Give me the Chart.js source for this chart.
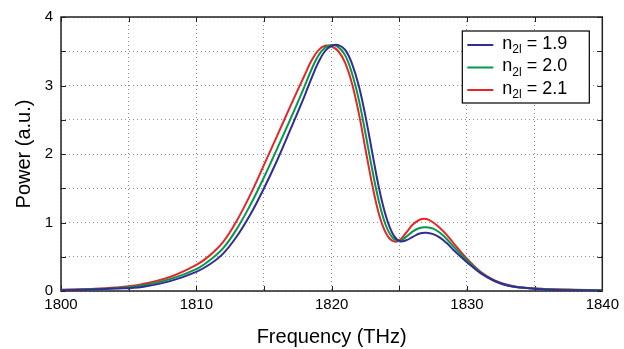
<!DOCTYPE html>
<html>
<head>
<meta charset="utf-8">
<script src="https://cdn.jsdelivr.net/npm/chart.js@4"></script>
<style>
  body { margin: 0; background: #fff; }
  canvas { display: block; }
</style>
</head>
<body>
<canvas id="grafico" width="624" height="349"></canvas>
<script>
// frequencia (THz) e potencia (a.u.)
const freq = [1800, 1802, 1804, 1806, 1808, 1810, 1811, 1812, 1813, 1814, 1815, 1816, 1817, 1818, 1818.5,
  1819, 1819.5, 1820, 1820.5, 1821, 1821.5, 1822, 1822.5, 1823, 1823.5, 1824, 1824.5, 1825, 1825.5,
  1826, 1826.5, 1827, 1827.5, 1828, 1828.5, 1829, 1830, 1831, 1832, 1833, 1834, 1836, 1838, 1840];

const power19 = [0.01, 0.02, 0.035, 0.06, 0.14, 0.28, 0.39, 0.55, 0.8, 1.12, 1.5, 1.92, 2.38, 2.85, 3.1,
  3.33, 3.5, 3.58, 3.59, 3.52, 3.32, 3.0, 2.55, 2.02, 1.5, 1.1, 0.84, 0.73, 0.74,
  0.79, 0.84, 0.85, 0.83, 0.78, 0.7, 0.6, 0.42, 0.26, 0.15, 0.08, 0.05, 0.02, 0.01, 0.005];

const power20 = [0.015, 0.025, 0.04, 0.08, 0.17, 0.32, 0.45, 0.63, 0.91, 1.26, 1.66, 2.09, 2.53, 2.99, 3.23,
  3.43, 3.55, 3.59, 3.56, 3.44, 3.18, 2.8, 2.3, 1.77, 1.3, 0.96, 0.78, 0.73, 0.79,
  0.87, 0.92, 0.93, 0.91, 0.85, 0.76, 0.65, 0.45, 0.27, 0.15, 0.08, 0.05, 0.025, 0.015, 0.01];

const power21 = [0.02, 0.03, 0.05, 0.1, 0.2, 0.38, 0.52, 0.72, 1.03, 1.41, 1.84, 2.28, 2.72, 3.15, 3.36,
  3.51, 3.58, 3.57, 3.5, 3.33, 3.03, 2.6, 2.07, 1.55, 1.12, 0.85, 0.73, 0.74, 0.85,
  0.97, 1.04, 1.05, 1.0, 0.92, 0.82, 0.7, 0.47, 0.28, 0.16, 0.09, 0.05, 0.03, 0.02, 0.01];

const n2l = ['1.9', '2.0', '2.1'];
const cores = ['#322c98', '#009a48', '#e8262a'];

const xLabels = [1800, 1810, 1820, 1830, 1840];
const yLabels = [0, 1, 2, 3, 4];

function pontos(ys) {
  return freq.map((f, i) => ({ x: f, y: ys[i] }));
}

const series = [power19, power20, power21];

// moldura + marcas de tick para dentro (estilo matlab)
const moldura = {
  id: 'moldura',
  beforeDatasetsDraw(chart) {
    const { ctx, chartArea: a, scales } = chart;
    ctx.save();
    ctx.strokeStyle = '#222';
    ctx.lineWidth = 1;
    scales.x.ticks.forEach(t => {
      const px = Math.round(scales.x.getPixelForValue(t.value)) + 0.5;
      ctx.beginPath();
      ctx.moveTo(px, a.bottom); ctx.lineTo(px, a.bottom - 5);
      ctx.moveTo(px, a.top); ctx.lineTo(px, a.top + 5);
      ctx.stroke();
    });
    scales.y.ticks.forEach(t => {
      const py = Math.round(scales.y.getPixelForValue(t.value)) + 0.5;
      ctx.beginPath();
      ctx.moveTo(a.left, py); ctx.lineTo(a.left + 5, py);
      ctx.moveTo(a.right, py); ctx.lineTo(a.right - 5, py);
      ctx.stroke();
    });
    ctx.lineWidth = 1.5;
    ctx.strokeRect(a.left, a.top, a.right - a.left, a.bottom - a.top);
    ctx.restore();
  }
};

// legenda com subscrito
const legenda = {
  id: 'legenda',
  afterDatasetsDraw(chart) {
    const { ctx, chartArea: a } = chart;
    const w = 127, h = 72;
    const x = a.right - 13 - w, y = a.top + 14;
    ctx.save();
    ctx.fillStyle = '#fff';
    ctx.fillRect(x, y, w, h);
    ctx.strokeStyle = '#000';
    ctx.lineWidth = 1.2;
    ctx.strokeRect(x, y, w, h);
    chart.data.datasets.forEach((ds, i) => {
      const ly = y + 14 + i * 22.5;
      ctx.strokeStyle = ds.borderColor;
      ctx.lineWidth = 2;
      ctx.beginPath();
      ctx.moveTo(x + 5, ly); ctx.lineTo(x + 31, ly);
      ctx.stroke();
      ctx.fillStyle = '#000';
      ctx.textBaseline = 'middle';
      ctx.font = '18px "Liberation Sans", Arial, sans-serif';
      let tx = x + 40;
      ctx.fillText('n', tx, ly - 1);
      tx += ctx.measureText('n').width;
      ctx.font = '12px "Liberation Sans", Arial, sans-serif';
      ctx.fillText('2l', tx, ly + 5);
      tx += ctx.measureText('2l').width;
      ctx.font = '18px "Liberation Sans", Arial, sans-serif';
      ctx.fillText(' = ' + n2l[i], tx, ly - 1);
    });
    ctx.restore();
  }
};

const fonte = { family: '"Liberation Sans", Arial, sans-serif', size: 15 };
const grade = { color: '#8c8c8c', borderDash: [1, 3], drawTicks: false };
const borda = { display: false, dash: [1, 3] };

new Chart(document.getElementById('grafico'), {
  type: 'line',
  data: {
    datasets: series.map((s, i) => ({
      label: 'n2l = ' + n2l[i],
      data: pontos(s),
      borderColor: cores[i],
      backgroundColor: cores[i],
      borderWidth: 2,
      pointRadius: 0,
      tension: 0.4,
      fill: false
    }))
  },
  options: {
    responsive: false,
    animation: false,
    layout: { padding: { left: 0, right: 6, top: 11, bottom: 0 } },
    plugins: {
      legend: { display: false },
      tooltip: { enabled: false }
    },
    scales: {
      x: {
        type: 'linear',
        min: 1800,
        max: 1840,
        border: borda,
        grid: grade,
        ticks: {
          stepSize: 5,
          padding: 5,
          color: '#000',
          font: fonte,
          autoSkip: false,
          maxRotation: 0,
          callback: v => xLabels.includes(v) ? String(v) : ''
        },
        title: {
          display: true,
          text: 'Frequency (THz)',
          color: '#000',
          font: { family: fonte.family, size: 20 },
          padding: { top: 0, bottom: 0 }
        },
        afterFit: s => { s.height = 58; }
      },
      y: {
        min: 0,
        max: 4,
        border: borda,
        grid: grade,
        ticks: {
          stepSize: 0.5,
          padding: 8,
          color: '#000',
          font: fonte,
          autoSkip: false,
          callback: v => yLabels.includes(v) ? String(v) : ''
        },
        title: {
          display: true,
          text: 'Power (a.u.)',
          color: '#000',
          font: { family: fonte.family, size: 20 },
          padding: { top: 12, bottom: 0 }
        },
        afterFit: s => { s.width = 61; }
      }
    }
  },
  plugins: [moldura, legenda]
});
</script>
</body>
</html>
